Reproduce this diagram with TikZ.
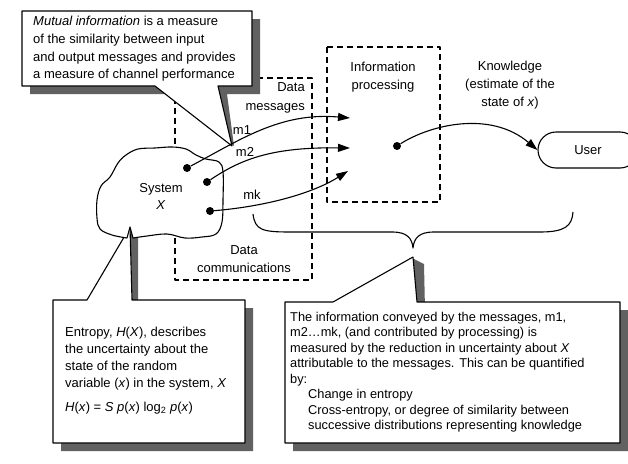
\documentclass[tikz,border=0pt]{standalone}
\usepackage{fontspec}
\setmainfont{Liberation Sans}
\usetikzlibrary{positioning,arrows.meta}

\def\mutualcallout{(22,11) -- (252,11) -- (252,86) -- (218,86) -- (232,146) -- (155,86) -- (22,86) -- cycle}
\def\mutualshadow{(30,19) -- (260,19) -- (260,94) -- (227,94) -- (234,146) -- (170,94) -- (30,94) -- cycle}
\def\entropycallout{(53,300) -- (87,300) -- (130,227) -- (132,300) -- (245,300) -- (245,443) -- (53,443) -- cycle}
\def\entropyshadow{(61,451) -- (253,451) -- (253,308) -- (138,308) -- (138,238) -- (131,230) -- (100,300) -- (61,308) -- cycle}
\def\infocallout{(285,302) -- (333,302) -- (413,257) -- (417,302) -- (620,302) -- (620,443) -- (285,443) -- cycle}
\def\infoshadow{(293,451) -- (632,451) -- (632,310) -- (425,310) -- (424,264) -- (414,259) -- (345,302) -- (293,310) -- cycle}

\tikzset{
  dashbox/.style={draw, line width=1.2pt, dash pattern=on 6pt off 4pt},
  calloutline/.style={draw, line width=1.1pt, fill=white},
  shadowfill/.style={fill=black!62},
  dot/.style={circle, fill=black, inner sep=0pt, minimum size=8pt},
  msg/.style={-{Triangle[length=12pt,width=8pt]}, line width=1.1pt},
  note/.style={align=left, anchor=north west, inner sep=0pt},
  lbl/.style={inner sep=0pt}
}

\begin{document}
\begin{tikzpicture}[x=1pt, y=-1pt, line join=round, font=\fontsize{13}{17}\selectfont]
  \useasboundingbox (0,0) rectangle (628,463);

  % dashed boxes
  \draw[dashbox] (175,78) rectangle (312,280);
  \draw[dashbox] (327,47) rectangle (440,202);

  % callouts with their shadows
  \fill[shadowfill] \mutualshadow;
  \draw[calloutline] \mutualcallout;
  \fill[shadowfill] \entropyshadow;
  \draw[calloutline] \entropycallout;
  \fill[shadowfill] \infoshadow;
  \draw[calloutline] \infocallout;

  % the system
  \draw[line width=1.1pt, fill=white] plot[smooth, tension=0.6] coordinates {(133,238) (147,236) (167,234) (185,238) (202,237) (216,234) (222,222) (223,200) (223,172) (219,162) (206,159) (196,155) (186,149) (172,147) (155,148) (138,149) (126,155) (118,163) (110,177) (101,186) (97,200) (97,218) (100,229) (112,235) (127,238)} -- (130,227) -- cycle;
  \node[align=center, lbl] (system) at (161,196) {System\\\textit{X}};

  % message sources and ends
  \node[dot] (d1) at (187,168) {};
  \node[dot] (d2) at (207,182) {};
  \node[dot] (dk) at (210,211) {};
  \coordinate (t1) at (350,118);
  \coordinate (t2) at (350,148);
  \coordinate (tk) at (348,171);
  \node[dot] (pdot) at (397,146) {};
  \node[draw, line width=1.1pt, rounded corners=18pt, minimum width=100pt, minimum height=36pt] (user) at (588,150) {User};

  \draw[msg] (d1) .. controls (240,140) and (280,112) .. (t1);
  \draw[msg] (d2) .. controls (240,160) and (270,147) .. (t2);
  \draw[msg] (dk) .. controls (260,207) and (310,195) .. (tk);
  \draw[msg] (pdot) .. controls (430,125) and (490,110) .. (user.west);

  \node[lbl] (m1) at (242,130) {m1};
  \node[lbl] (m2) at (245,152) {m2};
  \node[lbl] (mk) at (252,195) {mk};

  % labels
  \node[align=right, anchor=north east, inner sep=0pt, font=\fontsize{13}{19}\selectfont] (datamsg) at (305,82) {Data\\messages};
  \node[align=center, inner sep=0pt, font=\fontsize{13}{18}\selectfont] (datacomm) at (244,259) {Data\\communications};
  \node[align=center, inner sep=0pt, font=\fontsize{13}{18}\selectfont] (proc) at (383,77) {Information\\processing};
  \node[align=center, inner sep=0pt, font=\fontsize{13}{18}\selectfont] (know) at (510,85) {Knowledge\\(estimate of the\\state of \textit{x})};

  % brace
  \draw[line width=1.1pt] (253,214) .. controls (255,230) and (262,232) .. (290,232) -- (392,232) .. controls (407,232) and (412,238) .. (413,248) .. controls (414,238) and (419,232) .. (434,232) -- (540,232) .. controls (565,232) and (572,226) .. (573,212);

  % callout texts
  \node[note, font=\fontsize{13}{17.7}\selectfont] (mutualtext) at (33,16) {\textit{Mutual information} is a measure\\of the similarity between input\\and output messages and provides\\a measure of channel performance};
  \node[note] (entropytext) at (65,327) {Entropy, \textit{H}(\textit{X}), describes\\the uncertainty about the\\state of the random\\variable (\textit{x}) in the system, \textit{X}\\[7pt]\textit{H}(\textit{x}) = \textit{S p}(\textit{x}) log\textsubscript{2} \textit{p}(\textit{x})};
  \node[note, font=\fontsize{12.8}{15.5}\selectfont] (infotext) at (290,312) {The information conveyed by the messages, m1,\\m2\ldots mk, (and contributed by processing) is\\measured by the reduction in uncertainty about \textit{X}\\attributable to the messages. This can be quantified\\by:\\\hspace*{18pt}Change in entropy\\\hspace*{18pt}Cross-entropy, or degree of similarity between\\\hspace*{18pt}successive distributions representing knowledge};
\end{tikzpicture}
\end{document}
